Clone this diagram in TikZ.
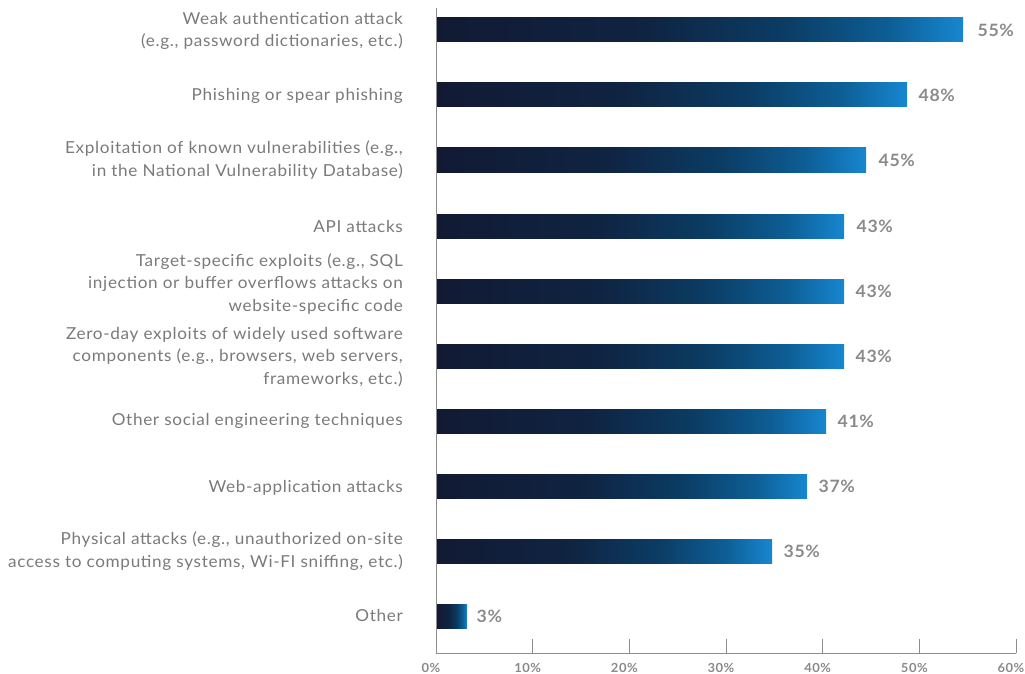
\documentclass[tikz,border=0pt]{standalone}
\usepackage{fontspec}
\setmainfont{Lato}[LetterSpace=4, FakeStretch=1.04]
\definecolor{barA}{HTML}{121A33}
\definecolor{barB}{HTML}{0F2442}
\definecolor{barC}{HTML}{0B3C64}
\definecolor{barD}{HTML}{0D5E95}
\definecolor{barE}{HTML}{1787D0}
\definecolor{labgray}{HTML}{7A7A7A}
\definecolor{pctgray}{HTML}{8A8A8A}
\definecolor{axisgray}{HTML}{8C8C8C}
\pgfdeclarehorizontalshading{barshade}{100bp}{color(0bp)=(barA); color(25bp)=(barA); color(45bp)=(barB); color(58bp)=(barC); color(68bp)=(barD); color(75bp)=(barE); color(100bp)=(barE)}
\tikzset{
  bar/.style={shading=barshade, inner sep=0pt, minimum height=24pt, anchor=west},
  lab/.style={anchor=east, align=right, text=labgray, inner sep=0pt, font=\fontsize{16.5}{22.5}\selectfont},
  pct/.style={anchor=west, text=pctgray, inner sep=0pt, font=\fontsize{17}{20}\selectfont\bfseries},
  tick/.style={text=pctgray, inner sep=0pt, font=\fontsize{12.5}{14}\selectfont\bfseries},
  axis/.style={draw=axisgray, line width=1pt}
}
\begin{document}
\begin{tikzpicture}[x=1pt,y=-1pt]
\useasboundingbox (0,0) rectangle (1025,674);
% bars
\node[bar, minimum width=527pt] (b1) at (436,30) {};
\node[bar, minimum width=471pt] (b2) at (436,95) {};
\node[bar, minimum width=430pt] (b3) at (436,160) {};
\node[bar, minimum width=408pt] (b4) at (436,226) {};
\node[bar, minimum width=408pt] (b5) at (436,291) {};
\node[bar, minimum width=408pt] (b6) at (436,356) {};
\node[bar, minimum width=390pt] (b7) at (436,421) {};
\node[bar, minimum width=371pt] (b8) at (436,486) {};
\node[bar, minimum width=336pt] (b9) at (436,551) {};
\node[bar, minimum width=31pt] (b10) at (436,616) {};
% values
\node[pct] (p1) at ([xshift=14pt]b1.east) {55\%};
\node[pct] (p2) at ([xshift=11pt]b2.east) {48\%};
\node[pct] (p3) at ([xshift=12pt]b3.east) {45\%};
\node[pct] (p4) at ([xshift=12pt]b4.east) {43\%};
\node[pct] (p5) at ([xshift=11pt]b5.east) {43\%};
\node[pct] (p6) at ([xshift=11pt]b6.east) {43\%};
\node[pct] (p7) at ([xshift=11pt]b7.east) {41\%};
\node[pct] (p8) at ([xshift=11pt]b8.east) {37\%};
\node[pct] (p9) at ([xshift=11pt]b9.east) {35\%};
\node[pct] (p10) at ([xshift=9pt]b10.east) {3\%};
% category labels
\node[lab] (l1) at (403,31) {Weak authentication attack\\(e.g., password dictionaries, etc.)};
\node[lab] (l2) at (403,96) {Phishing or spear phishing};
\node[lab] (l3) at (403,160) {Exploitation of known vulnerabilities (e.g.,\\in the National Vulnerability Database)};
\node[lab] (l4) at (403,226) {API attacks};
\node[lab] (l5) at (403,284) {Target-specific exploits (e.g., SQL\\injection or buffer overflows attacks on\\website-specific code};
\node[lab] (l6) at (403,357) {Zero-day exploits of widely used software\\components (e.g., browsers, web servers,\\frameworks, etc.)};
\node[lab] (l7) at (403,421) {Other social engineering techniques};
\node[lab] (l8) at (403,488) {Web-application attacks};
\node[lab] (l9) at (403,551) {Physical attacks (e.g., unauthorized on-site\\access to computing systems, Wi-FI sniffing, etc.)};
\node[lab] (l10) at (403,615) {Other};
% axes
\coordinate (atop) at (436,8);
\coordinate (aorig) at (436,653);
\coordinate (aend) at (1016,653);
\draw[axis] (atop) -- (aorig) -- (aend);
\foreach \i in {0,...,6} {
  \coordinate (t\i) at ({436+96.67*\i},653);
  \coordinate (tt\i) at ({436+96.67*\i},639);
  \draw[axis] (t\i) -- (tt\i);
}
\foreach \i/\v in {0/0,1/10,2/20,3/30,4/40,5/50,6/60} {
  \node[tick] (tl\i) at ({431+96.67*\i},668) {\v\%};
}
\end{tikzpicture}
\end{document}
